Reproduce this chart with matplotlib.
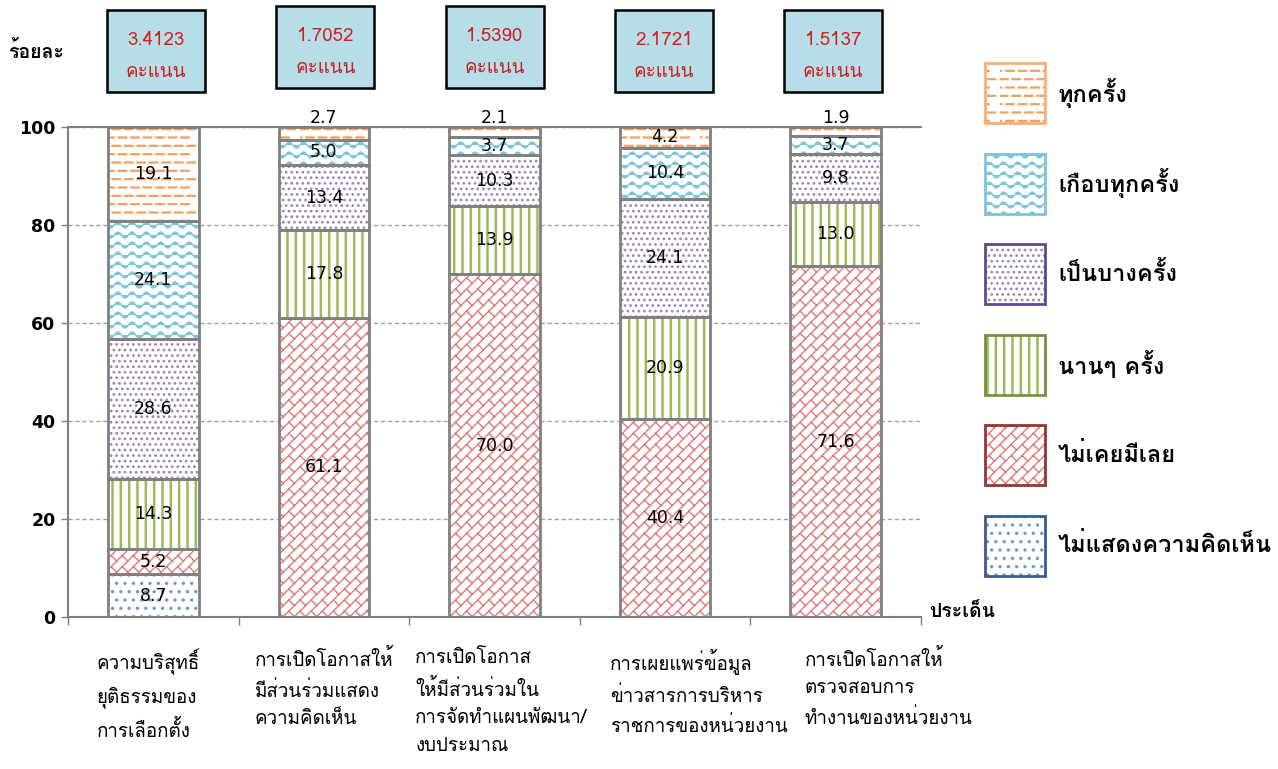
import warnings
import numpy as np
import matplotlib
matplotlib.use("Agg")
import matplotlib.pyplot as plt
import matplotlib.hatch as mhatch
from matplotlib.path import Path
from matplotlib.patches import Rectangle
from matplotlib import font_manager as fm
from matplotlib.ft2font import FT2Font

warnings.filterwarnings("ignore")

# ---- data ----
categories = [
    "ความบริสุทธิ์\nยุติธรรมของ\nการเลือกตั้ง",
    "การเปิดโอกาสให้\nมีส่วนร่วมแสดง\nความคิดเห็น",
    "การเปิดโอกาส\nให้มีส่วนร่วมใน\nการจัดทำแผนพัฒนา/\nงบประมาณ",
    "การเผยแพร่ข้อมูล\nข่าวสารการบริหาร\nราชการของหน่วยงาน",
    "การเปิดโอกาสให้\nตรวจสอบการ\nทำงานของหน่วยงาน",
]
series_names = ["ไม่แสดงความคิดเห็น", "ไม่เคยมีเลย", "นานๆ ครั้ง",
                "เป็นบางครั้ง", "เกือบทุกครั้ง", "ทุกครั้ง"]
no_opinion = [8.7, 0, 0, 0, 0]
never = [5.2, 61.1, 70.0, 40.4, 71.6]
rarely = [14.3, 17.8, 13.9, 20.9, 13.0]
sometimes = [28.6, 13.4, 10.3, 24.1, 9.8]
almost_always = [24.1, 5.0, 3.7, 10.4, 3.7]
always = [19.1, 2.7, 2.1, 4.2, 1.9]
scores = ["3.4123", "1.7052", "1.5390", "2.1721", "1.5137"]
yticks = [0, 20, 40, 60, 80, 100]


# ---- custom hatches: dashes (_), waves (~), bricks (b) ----
class DashHatch(mhatch.HatchPatternBase):
    def __init__(self, hatch, density):
        self.rows = hatch.count('_') * density
        self.cols = int(self.rows * 2 / 3)
        self.num_vertices = self.rows * self.cols * 2

    def set_vertices_and_codes(self, vertices, codes):
        k = 0
        for r in range(self.rows):
            y = (r + 0.5) / self.rows
            off = 0.5 if r % 2 else 0.0
            for c in range(self.cols):
                x0 = (c + off) / self.cols
                x1 = x0 + 0.6 / self.cols
                if x1 > 1:
                    x0 -= 1
                    x1 -= 1
                vertices[k] = (x0, y)
                vertices[k + 1] = (x1, y)
                codes[k] = Path.MOVETO
                codes[k + 1] = Path.LINETO
                k += 2


class WaveHatch(mhatch.HatchPatternBase):
    def __init__(self, hatch, density):
        self.rows = hatch.count('~') * 5
        self.npts = 57
        self.num_vertices = self.rows * self.npts

    def set_vertices_and_codes(self, vertices, codes):
        xs = np.linspace(0, 1, self.npts)
        k = 0
        for r in range(self.rows):
            y = (r + 0.5) / self.rows + 0.3 / self.rows * np.sin(2 * np.pi * 7 * xs)
            vertices[k:k + self.npts, 0] = xs
            vertices[k:k + self.npts, 1] = y
            codes[k] = Path.MOVETO
            codes[k + 1:k + self.npts] = Path.LINETO
            k += self.npts


class BrickHatch(mhatch.HatchPatternBase):
    # long lines along "/" with staggered short cross pieces
    def __init__(self, hatch, density):
        self.m = hatch.count('b') * 9
        if self.m:
            self.lines = np.arange(-self.m, 2 * self.m + 1) / self.m
            self.nb = 9
            self.num_vertices = len(self.lines) * 2 + len(self.lines) * self.nb * 2 * 2
        else:
            self.num_vertices = 0

    def set_vertices_and_codes(self, vertices, codes):
        k = 0
        for c in self.lines:
            vertices[k] = (c - 1, -1)
            vertices[k + 1] = (c + 2, 2)
            codes[k] = Path.MOVETO
            codes[k + 1] = Path.LINETO
            k += 2
        lv = 2 / 9
        for i, c in enumerate(self.lines):
            shift = lv / 2 if i % 2 else 0.0
            for j in range(self.nb * 2):
                v = j * lv + shift - 1
                x0 = (v + c) / 2
                y0 = (v - c) / 2
                vertices[k] = (x0, y0)
                vertices[k + 1] = (x0 + 0.5 / self.m, y0 - 0.5 / self.m)
                codes[k] = Path.MOVETO
                codes[k + 1] = Path.LINETO
                k += 2


mhatch._hatch_types.append(DashHatch)
mhatch._hatch_types.append(WaveHatch)
mhatch._hatch_types.append(BrickHatch)


def thai_fonts():
    found = {}
    for f in fm.fontManager.ttflist:
        try:
            if 0x0E01 in FT2Font(f.fname).get_charmap():
                found.setdefault(f.name, []).append(f.weight)
        except Exception:
            pass
    return found


found = thai_fonts()
prefer = ["Loma", "Tahoma", "Leelawadee UI", "Garuda", "Noto Sans Thai Looped",
          "Waree", "Umpush", "Noto Sans Thai"]
TH = next((p for p in prefer if p in found), None)
if TH is None:
    TH = max(found, key=lambda n: len(found[n])) if found else "DejaVu Sans"
plt.rcParams['font.family'] = ['DejaVu Sans', TH]
plt.rcParams['hatch.linewidth'] = 1.2

hatch_cols = ["#6A9AD6", "#E07A78", "#9BBB59", "#9A85BC", "#7CC6DA", "#F2A05E"]
edge_cols = ["#385D8A", "#943634", "#77933C", "#5F4B8B", "#7FC4D6", "#F9B076"]
hatches = ["..", "b", "||", "...", "~~", "__"]
hatch_lw = [1.2, 1.0, 1.8, 1.2, 1.1, 1.6]

values = [no_opinion, never, rarely, sometimes, almost_always, always]

fig = plt.figure(figsize=(12.78, 7.69), dpi=100)
ax = fig.add_axes([68 / 1278, 152 / 769, 853 / 1278, 490 / 769])

x = np.arange(len(categories))
w = 0.53
bottom = np.zeros(len(categories))
for i, vals in enumerate(values):
    vals = np.array(vals)
    with plt.rc_context({'hatch.linewidth': hatch_lw[i]}):
        ax.bar(x, vals, w, bottom=bottom, color="white", edgecolor=hatch_cols[i],
               linewidth=0, hatch=hatches[i], zorder=2)
    ax.bar(x, vals, w, bottom=bottom, fill=False, edgecolor="#808080",
           linewidth=2, zorder=3)
    for j, v in enumerate(vals):
        if v <= 0:
            continue
        yy = 101.8 if v < 3 else bottom[j] + v / 2
        ax.text(x[j], yy, f"{v:.1f}", ha="center", va="center", fontsize=12.5,
                zorder=4, clip_on=False)
    bottom += vals

ax.set_xlim(-0.5, len(categories) - 0.5)
ax.set_ylim(0, 100)
ax.set_yticks(yticks)
ax.set_yticklabels([str(t) for t in yticks], fontsize=12.5, fontweight="bold")
ax.yaxis.grid(True, linestyle=(0, (3, 2)), color="#A0A0A0", linewidth=1, zorder=0)
ax.set_xticks(np.arange(len(categories) + 1) - 0.5)
ax.set_xticklabels([])
ax.tick_params(axis="x", length=6, color="#808080", width=1)
ax.tick_params(axis="y", length=5, color="#808080", width=1, pad=4)
ax.spines["right"].set_visible(False)
for s in ["left", "bottom", "top"]:
    ax.spines[s].set_color("#808080")
    ax.spines[s].set_linewidth(1.5)

# category labels
lab_off = [-0.03, 0.0, 0.04, 0.2, 0.31]
for j, c in enumerate(categories):
    ax.text(x[j] + lab_off[j], -6.5, c, ha="center", va="top", fontsize=13.5,
            family=TH, linespacing=1.68, multialignment="left", clip_on=False)

ax.text(-0.69, 115.5, "ร้อยละ", ha="center", va="center", fontsize=14,
        family=TH, fontweight="bold", clip_on=False)
ax.text(4.55, 1, "ประเด็น", ha="left", va="center", fontsize=14,
        family=TH, fontweight="bold", clip_on=False)

# score boxes
box_tops = [10, 6, 6, 10, 10]
for j, sc in enumerate(scores):
    left_px = 107 + j * 169.3
    fig.add_artist(Rectangle((left_px / 1278, 1 - (box_tops[j] + 82) / 769),
                             98 / 1278, 82 / 769, transform=fig.transFigure,
                             facecolor="#B7DDE8", edgecolor="black", linewidth=1.8))
    cx = (left_px + 49) / 1278
    fig.text(cx, 1 - (box_tops[j] + 30) / 769, sc, ha="center", va="center",
             fontsize=13.5, color="#D02020", family=TH)
    fig.text(cx, 1 - (box_tops[j] + 62) / 769, "คะแนน", ha="center", va="center",
             fontsize=13.5, color="#D02020", family=TH)

# legend (top item = last series)
for k, i in enumerate(range(len(series_names) - 1, -1, -1)):
    cy = 93 + k * 90.5
    with plt.rc_context({'hatch.linewidth': hatch_lw[i]}):
        fig.add_artist(Rectangle((985 / 1278, 1 - (cy + 30) / 769), 60 / 1278, 60 / 769,
                                 transform=fig.transFigure, facecolor="white",
                                 edgecolor=hatch_cols[i], linewidth=0, hatch=hatches[i]))
    fig.add_artist(Rectangle((985 / 1278, 1 - (cy + 30) / 769), 60 / 1278, 60 / 769,
                             transform=fig.transFigure, fill=False,
                             edgecolor=edge_cols[i], linewidth=2))
    fig.text(1058 / 1278, 1 - cy / 769, series_names[i], ha="left", va="center",
             fontsize=17, fontweight="bold", family=TH)

fig.savefig("out.png", dpi=100)
